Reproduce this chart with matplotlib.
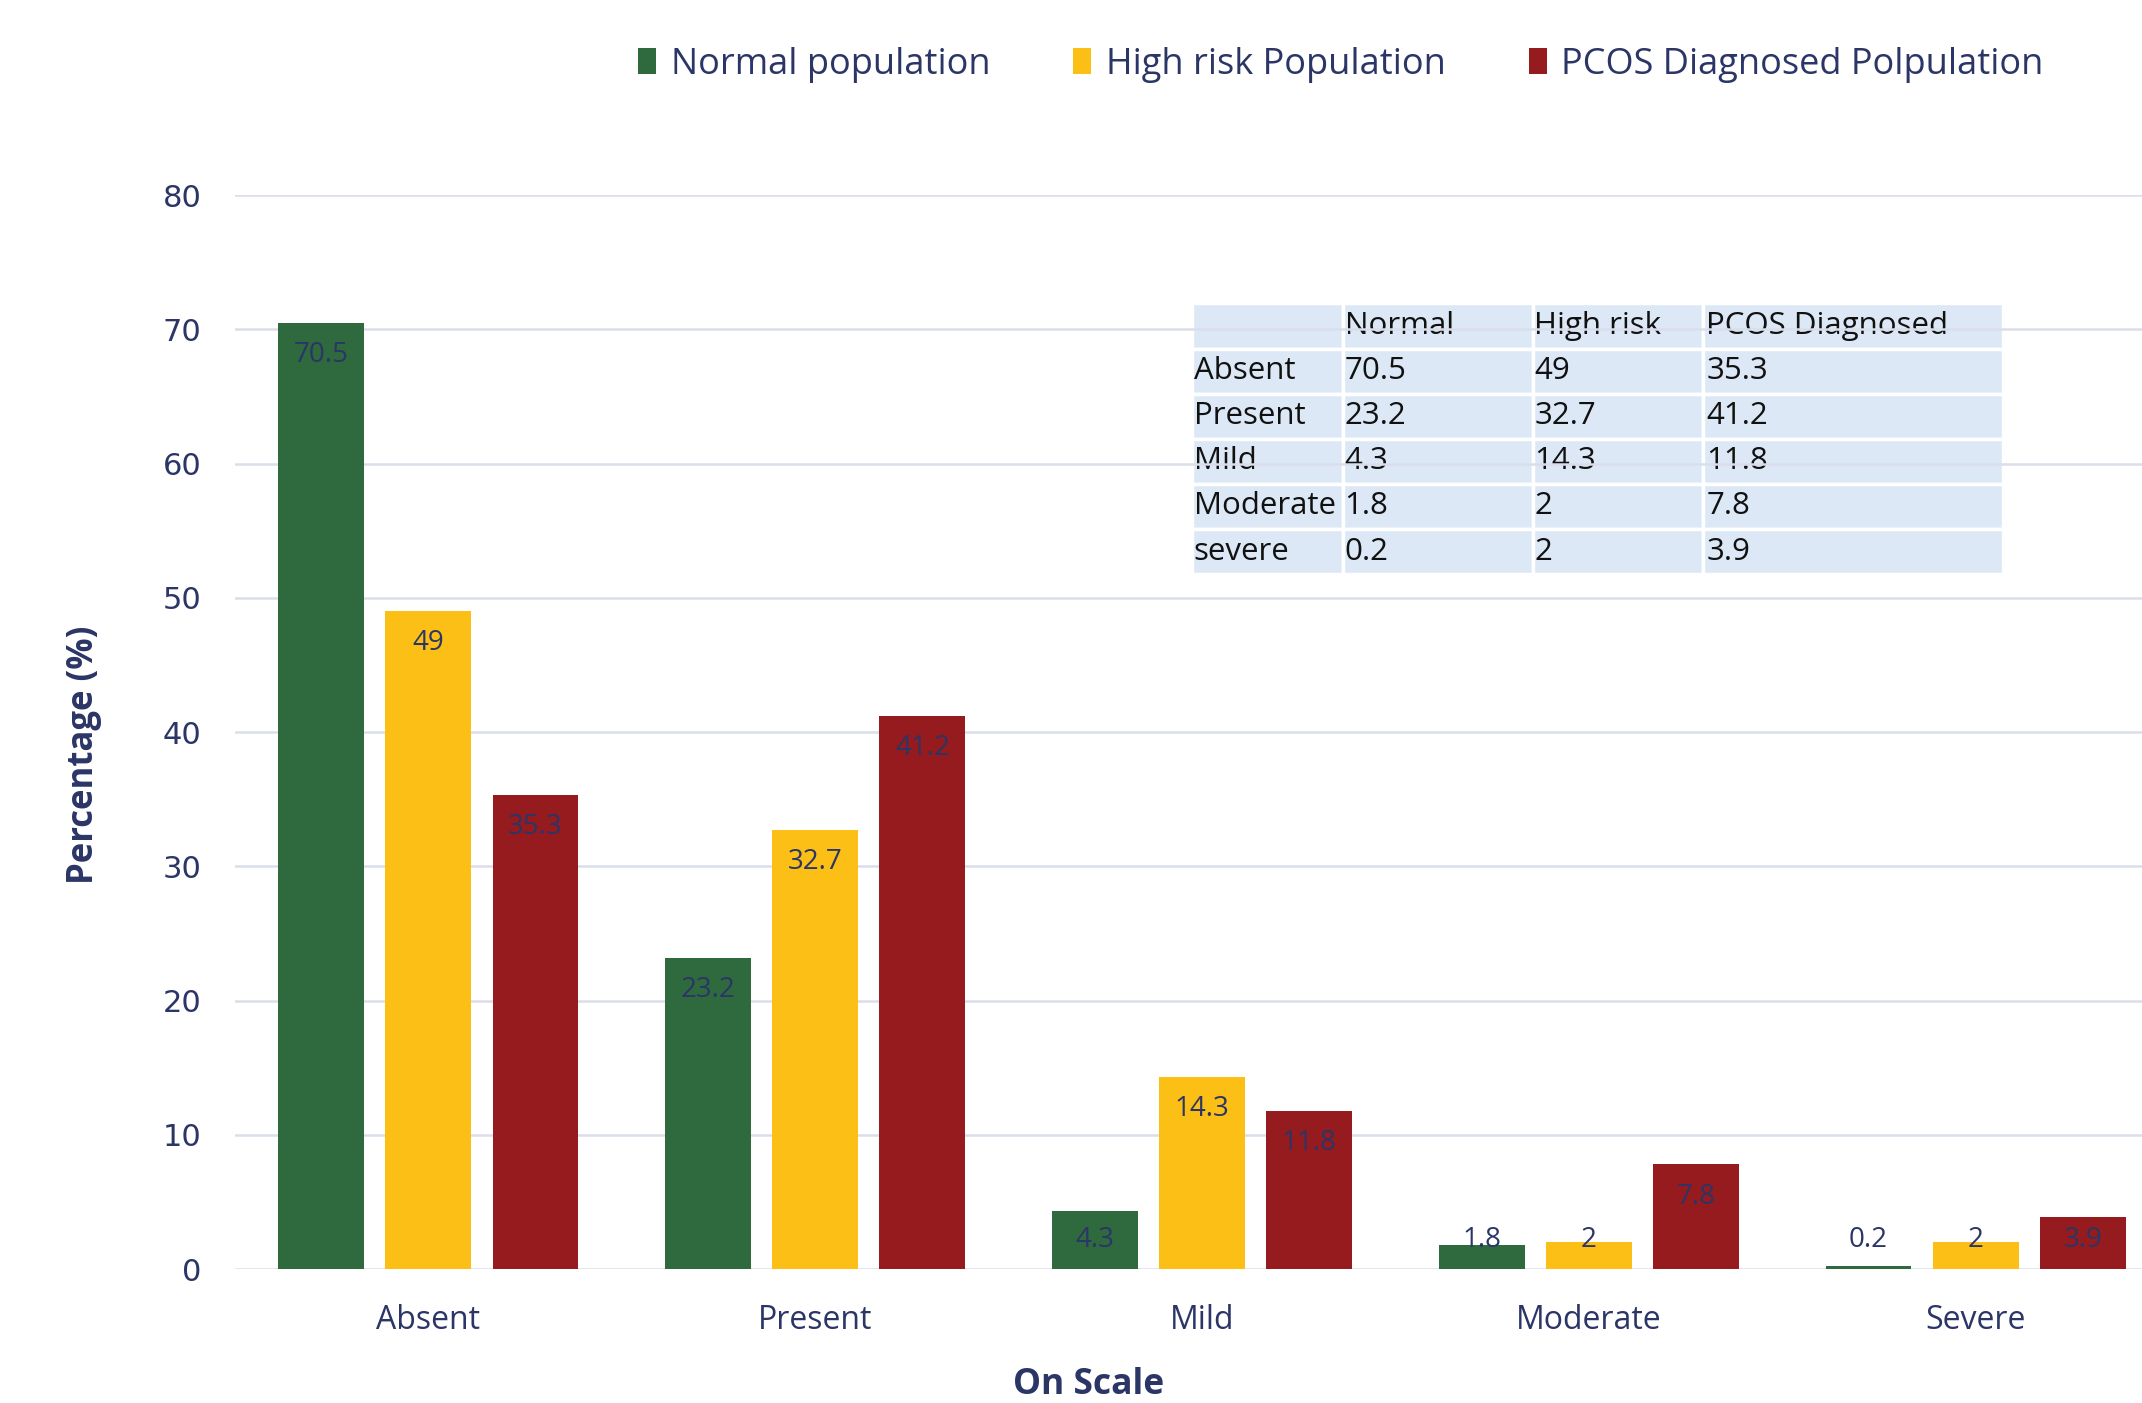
import matplotlib
matplotlib.use("Agg")
import matplotlib.pyplot as plt
import numpy as np
from matplotlib.patches import Patch

categories = ["Absent", "Present", "Mild", "Moderate", "Severe"]
table_rows = ["Absent", "Present", "Mild", "Moderate", "severe"]
series_names = ["Normal population", "High risk Population", "PCOS Diagnosed Polpulation"]
table_cols = ["Normal", "High risk", "PCOS Diagnosed"]
normal = [70.5, 23.2, 4.3, 1.8, 0.2]
high_risk = [49, 32.7, 14.3, 2, 2]
pcos = [35.3, 41.2, 11.8, 7.8, 3.9]
y_ticks = [0, 10, 20, 30, 40, 50, 60, 70, 80]

colors = ["#2e6a3e", "#fbbf15", "#951b1e"]
navy = "#2b3566"
grid_c = "#dadeeb"

fig = plt.figure(figsize=(21.42, 14.03), dpi=100)
ax = fig.add_axes([0.1097, 0.0955, 0.8903, 0.7655])

x = np.arange(len(categories))
width = 0.222
step = 0.277
all_series = [normal, high_risk, pcos]

def fmt(v):
    return f"{v:g}"

for i, (vals, c, name) in enumerate(zip(all_series, colors, series_names)):
    xs = x + (i - 1) * step
    ax.bar(xs, vals, width, color=c, label=name, zorder=2)
    for xi, v in zip(xs, vals):
        ty = max(v - 2.4, 2.15)
        ax.text(xi, ty, fmt(v), ha="center", va="center", color=navy,
                fontsize=20, family="Open Sans", zorder=3)

ax.set_xlim(-0.5, 4.43)
ax.set_ylim(0, 80)
ax.set_yticks(y_ticks)
ax.set_yticklabels([str(t) for t in y_ticks], fontsize=22, color=navy, family="DejaVu Sans")
ax.set_xticks(x)
ax.set_xticklabels(categories, fontsize=23, color=navy, family="Open Sans")
ax.tick_params(axis="both", length=0)
ax.tick_params(axis="y", pad=24)
ax.tick_params(axis="x", pad=25)
ax.grid(axis="y", color=grid_c, linewidth=1.8, zorder=0.5)
ax.set_axisbelow(True)
for s in ax.spines.values():
    s.set_visible(False)

fig.text(0.039, 0.462, "Percentage (%)", rotation=90, ha="center", va="center",
         fontsize=25, fontweight="bold", color=navy, family="Open Sans")
fig.text(0.508, 0.013, "On Scale", ha="center", va="center",
         fontsize=25.5, fontweight="bold", color=navy, family="Open Sans")

handles = [Patch(facecolor=c) for c in colors]
fig.legend(handles, series_names, loc="center", bbox_to_anchor=(0.626, 0.954), ncol=3,
           frameon=False, handlelength=0.5, handleheight=0.7,
           handletextpad=0.4, columnspacing=2.3,
           prop={"family": "Open Sans", "size": 26}, labelcolor=navy)

# summary table
cell_text = [[r] + [fmt(v) for v in vals] for r, vals in zip(table_rows, zip(normal, high_risk, pcos))]
cell_text = [[""] + table_cols] + cell_text
col_w = np.array([110, 139, 125, 219], dtype=float)
col_w = col_w / col_w.sum()
tbl = ax.table(cellText=cell_text, cellLoc="left", colWidths=list(col_w),
               bbox=[0.502, 0.647, 0.425, 0.252], zorder=0.4)
tbl.auto_set_font_size(False)
for (r, c), cell in tbl.get_celld().items():
    cell.set_facecolor("#dce8f5")
    cell.set_edgecolor("white")
    cell.set_linewidth(2.5)
    cell.PAD = 0.01
    cell.get_text().set_fontsize(22.5)
    cell.get_text().set_family("Open Sans")
    cell.get_text().set_color("#111111")

fig.savefig("out.png", dpi=100, facecolor="white")
